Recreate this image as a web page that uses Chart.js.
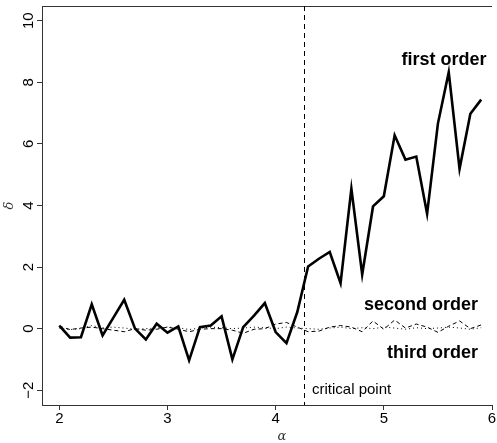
<!DOCTYPE html>
<html>
<head>
<meta charset="utf-8">
<script src="https://cdn.jsdelivr.net/npm/chart.js@4/dist/chart.umd.min.js"></script>
<style>
html,body{margin:0;padding:0;background:#fff;}
#wrap{width:497px;height:443px;position:relative;}
</style>
</head>
<body>
<div id="wrap"><canvas id="c" width="497" height="443"></canvas></div>
<script>
const alphas = [2.0,2.1,2.2,2.3,2.4,2.5,2.6,2.7,2.8,2.9,3.0,3.1,3.2,3.3,3.4,3.5,3.6,3.7,3.8,3.9,4.0,4.1,4.2,4.3,4.4,4.5,4.6,4.7,4.8,4.9,5.0,5.1,5.2,5.3,5.4,5.5,5.6,5.7,5.8,5.9];
const firstOrder = [0.10,-0.29,-0.28,0.79,-0.22,0.36,0.94,0.00,-0.35,0.16,-0.13,0.07,-1.03,0.05,0.10,0.40,-1.00,0.05,0.42,0.83,-0.11,-0.47,0.54,2.02,2.27,2.49,1.48,4.55,1.76,3.97,4.30,6.28,5.49,5.59,3.73,6.66,8.33,5.19,6.98,7.44];
const secondOrder = [0.08,-0.03,0.02,0.05,0.00,-0.05,-0.10,0.00,-0.05,-0.02,0.05,-0.02,-0.10,-0.02,0.00,0.00,-0.05,-0.15,-0.02,0.00,0.15,0.20,0.05,-0.10,-0.08,0.05,0.10,0.05,-0.10,0.25,-0.02,0.28,0.02,0.15,0.05,-0.12,0.08,0.25,0.00,0.12];
const thirdOrder = [0.02,-0.03,0.00,0.10,0.03,0.05,0.02,-0.02,0.00,0.02,0.05,0.03,-0.03,0.02,0.05,0.03,0.00,0.02,0.05,0.03,0.00,0.05,0.02,0.00,-0.02,0.02,0.05,0.00,0.03,0.00,0.05,0.02,-0.02,0.03,0.00,0.02,0.05,0.02,-0.02,0.03];
const xTicks = [2,3,4,5,6];
const yTicks = [-2,0,2,4,6,8,10];
const criticalPoint = 4.265;
const seriesLabels = ['first order','second order','third order'];

const toPts = ys => alphas.map((a,i)=>({x:a,y:ys[i]}));
const FONT = '"Liberation Sans", Arial, Helvetica, sans-serif';
const AX = '#333';

const annot = {
  id:'annot',
  afterDraw(chart){
    const {ctx, chartArea:ca, scales:{x,y}} = chart;
    ctx.save();
    // top border
    ctx.strokeStyle = AX; ctx.lineWidth = 1;
    ctx.beginPath(); ctx.moveTo(ca.left, ca.top+0.5); ctx.lineTo(ca.right, ca.top+0.5); ctx.stroke();
    // critical line
    const cx = Math.round(x.getPixelForValue(criticalPoint))+0.5;
    ctx.strokeStyle = '#000'; ctx.setLineDash([5,4]);
    ctx.beginPath(); ctx.moveTo(cx, ca.top); ctx.lineTo(cx, ca.bottom); ctx.stroke();
    ctx.setLineDash([]);
    // tick labels
    ctx.fillStyle = '#000';
    ctx.font = '15px ' + FONT;
    ctx.textAlign = 'center'; ctx.textBaseline = 'middle';
    xTicks.forEach(t=>{ ctx.fillText(String(t), x.getPixelForValue(t), 419); });
    yTicks.forEach(t=>{
      const py = y.getPixelForValue(t);
      ctx.save(); ctx.translate(29, py); ctx.rotate(-Math.PI/2);
      ctx.fillText(t<0 ? '\u2212'+Math.abs(t) : String(t), 0, 0);
      ctx.restore();
    });
    // axis titles
    ctx.font = 'italic 13px "DejaVu Serif", "Liberation Serif", serif';
    ctx.fillStyle = '#333';
    ctx.fillText('\u03b1', 282, 437);
    ctx.save(); ctx.translate(10, (ca.top+ca.bottom)/2); ctx.rotate(-Math.PI/2);
    ctx.fillText('\u03b4', 0, 0); ctx.restore();
    // series labels
    ctx.fillStyle = '#000';
    ctx.font = 'bold 18px ' + FONT;
    ctx.textAlign = 'right';
    ctx.fillText(seriesLabels[0], x.getPixelForValue(5.95), y.getPixelForValue(8.74));
    ctx.fillText(seriesLabels[1], x.getPixelForValue(5.87), y.getPixelForValue(0.76));
    ctx.fillText(seriesLabels[2], x.getPixelForValue(5.87), y.getPixelForValue(-0.79));
    ctx.font = '15px ' + FONT;
    ctx.textAlign = 'left';
    ctx.fillText('critical point', x.getPixelForValue(4.336), y.getPixelForValue(-2.0));
    ctx.restore();
  }
};

new Chart(document.getElementById('c'), {
  type:'line',
  data:{
    datasets:[
      {label:seriesLabels[2], data:toPts(thirdOrder), borderColor:'#000', borderWidth:1, borderDash:[1,3], pointRadius:0, tension:0, fill:false},
      {label:seriesLabels[1], data:toPts(secondOrder), borderColor:'#000', borderWidth:1, borderDash:[4,3], pointRadius:0, tension:0, fill:false},
      {label:seriesLabels[0], data:toPts(firstOrder), borderColor:'#000', borderWidth:2.6, pointRadius:0, tension:0, fill:false, borderJoinStyle:'miter'}
    ]
  },
  options:{
    responsive:false, animation:false,
    layout:{padding:{top:6,right:5,left:0,bottom:0}},
    plugins:{legend:{display:false}, tooltip:{enabled:false}},
    scales:{
      x:{type:'linear', min:1.84, max:6.0,
        afterBuildTicks(s){ s.ticks = xTicks.map(v=>({value:v})); },
        afterFit(s){ s.height = 38; },
        ticks:{display:false},
        grid:{drawOnChartArea:false, drawTicks:true, tickLength:5, color:AX},
        border:{display:true, color:AX, width:1}
      },
      y:{type:'linear', min:-2.48, max:10.48,
        afterBuildTicks(s){ s.ticks = yTicks.map(v=>({value:v})); },
        afterFit(s){ s.width = 42; },
        ticks:{display:false},
        grid:{drawOnChartArea:false, drawTicks:true, tickLength:5, color:AX},
        border:{display:true, color:AX, width:1}
      }
    }
  },
  plugins:[annot]
});
</script>
</body>
</html>
